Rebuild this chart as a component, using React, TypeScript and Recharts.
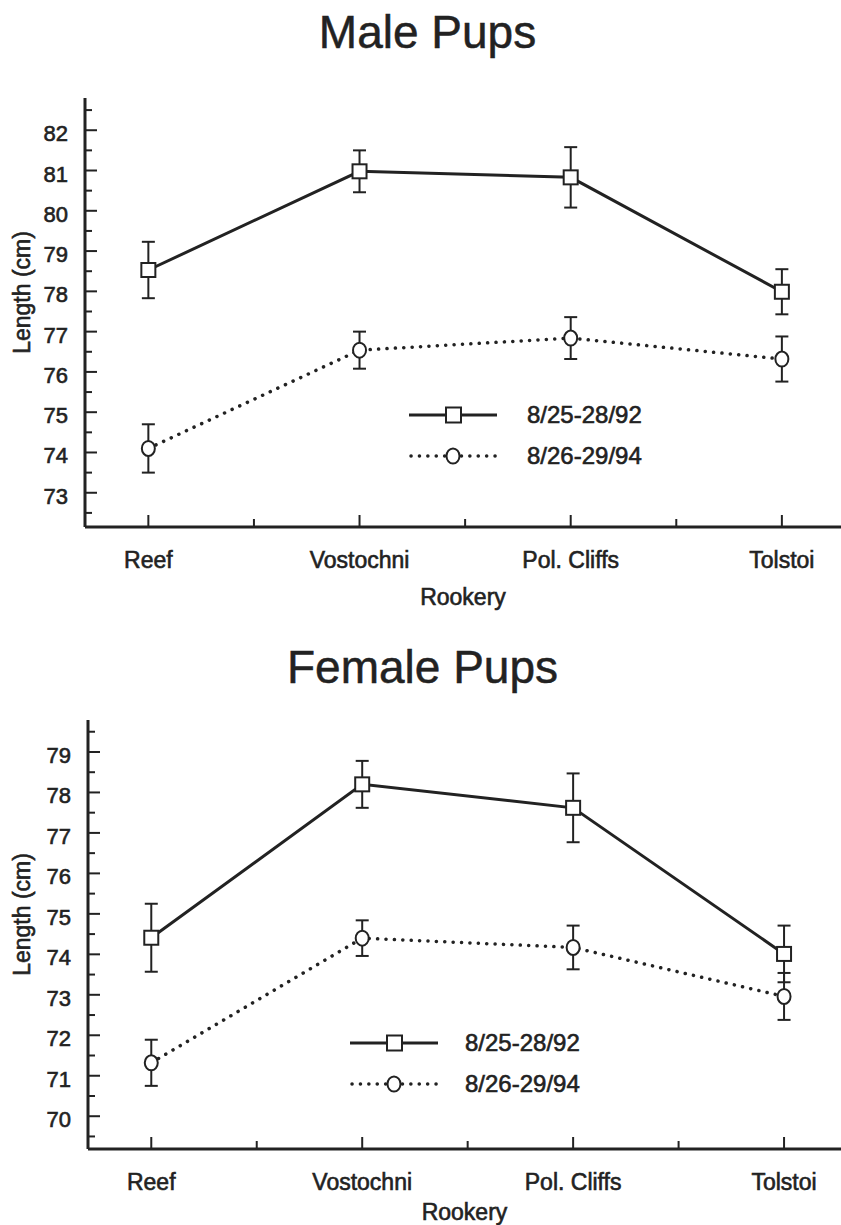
import { LineChart, Line, XAxis, YAxis, ErrorBar, Legend } from 'recharts';

const INK = '#222';
const FONT = '"Liberation Sans", Arial, Helvetica, sans-serif';

const rookeries = ['Reef', 'Vostochni', 'Pol. Cliffs', 'Tolstoi'];
const seriesNames = ['8/25-28/92', '8/26-29/94'];

// male pups, mean length and error
const male92 = [78.53, 80.98, 80.83, 77.99];
const male92Err = [0.7, 0.52, 0.75, 0.56];
const male94 = [74.1, 76.54, 76.84, 76.32];
const male94Err = [0.6, 0.46, 0.52, 0.56];

// female pups
const female92 = [74.41, 78.2, 77.62, 74.01];
const female92Err = [0.84, 0.58, 0.85, 0.7];
const female94 = [71.32, 74.4, 74.17, 72.96];
const female94Err = [0.57, 0.44, 0.54, 0.58];

const xTicks = [0, 0.5, 1, 1.5, 2, 2.5, 3];
const maleTicks = [72.5, 73, 73.5, 74, 74.5, 75, 75.5, 76, 76.5, 77, 77.5, 78, 78.5, 79, 79.5, 80, 80.5, 81, 81.5, 82, 82.5];
const femaleTicks = [69.5, 70, 70.5, 71, 71.5, 72, 72.5, 73, 73.5, 74, 74.5, 75, 75.5, 76, 76.5, 77, 77.5, 78, 78.5, 79, 79.5];

const build = (a: number[], ae: number[], b: number[], be: number[]) =>
  rookeries.map((_, i) => ({ idx: i, y92: a[i], e92: ae[i], y94: b[i], e94: be[i] }));

const maleData = build(male92, male92Err, male94, male94Err);
const femaleData = build(female92, female92Err, female94, female94Err);

// scanned figure: text looks a bit heavier than plain Arial
const heavy = { stroke: INK, strokeWidth: 0.6 };

function YTick(props: any) {
  const { x, y, payload } = props;
  const major = Number.isInteger(payload.value);
  return (
    <g>
      <line x1={x} x2={x + (major ? 12 : 7)} y1={y} y2={y} stroke={INK} strokeWidth={2} />
      {major && (
        <text x={x - 17} y={y + 11} textAnchor="end" fontSize={22} fill={INK} fontFamily={FONT} {...heavy}>
          {payload.value}
        </text>
      )}
    </g>
  );
}

function XTick(props: any) {
  const { x, y, payload } = props;
  const major = Number.isInteger(payload.value);
  return (
    <g>
      <line x1={x} x2={x} y1={y} y2={y - (major ? 12 : 8)} stroke={INK} strokeWidth={2} />
      {major && (
        <text x={x} y={y + 41} textAnchor="middle" fontSize={23} fill={INK} fontFamily={FONT} {...heavy}>
          {rookeries[payload.value]}
        </text>
      )}
    </g>
  );
}

const squareDot = (p: any) => (
  <rect key={`s${p.index}`} x={p.cx - 7} y={p.cy - 7} width={14} height={14} fill="#fff" stroke={INK} strokeWidth={2} />
);
const circleDot = (p: any) => (
  <ellipse key={`c${p.index}`} cx={p.cx} cy={p.cy} rx={6.5} ry={7.5} fill="#fff" stroke={INK} strokeWidth={2} />
);

function LegendBox({ gap }: { gap: number }) {
  return (
    <div style={{ fontFamily: FONT, fontSize: 24, color: INK, WebkitTextStroke: '0.6px #222' } as any}>
      {[0, 1].map((i) => (
        <div key={i} style={{ display: 'flex', alignItems: 'center', height: 41 }}>
          <svg width={88} height={20}>
            {i === 0 ? (
              <>
                <line x1={0} x2={88} y1={10} y2={10} stroke={INK} strokeWidth={3} />
                <rect x={37} y={2.5} width={15} height={15} fill="#fff" stroke={INK} strokeWidth={2} />
              </>
            ) : (
              <>
                <line x1={2} x2={88} y1={10} y2={10} stroke={INK} strokeWidth={3.5} strokeDasharray="0.1 8.3" strokeLinecap="round" />
                <ellipse cx={44} cy={10} rx={6.5} ry={7.5} fill="#fff" stroke={INK} strokeWidth={2} />
              </>
            )}
          </svg>
          <span style={{ marginLeft: gap, lineHeight: 1 }}>{seriesNames[i]}</span>
        </div>
      ))}
    </div>
  );
}

function Panel(props: any) {
  const { data, domain, ticks, yWidth, marginTop, height, marginBottom, xDomain, legendLeft, legendTop, legendGap, rookeryDy } = props;
  return (
    <LineChart width={841} height={height} data={data} margin={{ top: marginTop, right: 0, bottom: marginBottom, left: 0 }}>
      <XAxis
        type="number"
        dataKey="idx"
        domain={xDomain}
        allowDataOverflow
        ticks={xTicks}
        interval={0}
        tickSize={0}
        tickMargin={0}
        tickLine={false}
        tick={<XTick />}
        height={60}
        axisLine={{ stroke: INK, strokeWidth: 3 }}
        label={{
          content: (lp: any) => {
            const vb = lp.viewBox;
            return (
              <text x={vb.x + vb.width / 2} y={vb.y + rookeryDy} textAnchor="middle" fontSize={23} fill={INK} fontFamily={FONT} {...heavy}>
                Rookery
              </text>
            );
          },
        }}
      />
      <YAxis
        type="number"
        domain={domain}
        allowDataOverflow
        ticks={ticks}
        interval={0}
        width={yWidth}
        tickSize={0}
        tickMargin={0}
        tickLine={false}
        tick={<YTick />}
        axisLine={{ stroke: INK, strokeWidth: 3 }}
        label={{
          content: (lp: any) => {
            const vb = lp.viewBox;
            const cy = vb.y + vb.height / 2 - 20;
            return (
              <text x={22} y={cy} transform={`rotate(-90, 22, ${cy})`} textAnchor="middle" dominantBaseline="central" fontSize={23} fill={INK} fontFamily={FONT} {...heavy}>
                Length (cm)
              </text>
            );
          },
        }}
      />
      <Legend
        layout="horizontal"
        verticalAlign="middle"
        align="center"
        wrapperStyle={{ left: legendLeft, top: legendTop, width: 'auto' }}
        content={() => <LegendBox gap={legendGap} />}
      />
      <Line
        name={seriesNames[0]}
        dataKey="y92"
        stroke={INK}
        strokeWidth={3}
        dot={squareDot}
        activeDot={false}
        isAnimationActive={false}
      >
        <ErrorBar dataKey="e92" direction="y" width={6.5} stroke={INK} strokeWidth={2} />
      </Line>
      <Line
        name={seriesNames[1]}
        dataKey="y94"
        stroke={INK}
        strokeWidth={3.5}
        strokeDasharray="0.1 8.3"
        strokeLinecap="round"
        dot={circleDot}
        activeDot={false}
        isAnimationActive={false}
      >
        <ErrorBar dataKey="e94" direction="y" width={6.5} stroke={INK} strokeWidth={2} />
      </Line>
    </LineChart>
  );
}

const titleStyle: any = {
  position: 'absolute',
  left: 0,
  width: 841,
  textAlign: 'center',
  fontFamily: FONT,
  fontSize: 46,
  lineHeight: '46px',
  color: INK,
  WebkitTextStroke: '0.5px #222',
  boxSizing: 'border-box',
};

export default function App() {
  return (
    <div style={{ position: 'absolute', left: 0, top: 0, width: 841, height: 1225, background: '#fff', overflow: 'hidden' }}>
      <div style={{ ...titleStyle, top: 9, paddingLeft: 14 }}>Male Pups</div>
      <div style={{ ...titleStyle, top: 644, paddingLeft: 4 }}>Female Pups</div>
      <div style={{ position: 'absolute', left: 0, top: 0 }}>
        <Panel
          data={maleData}
          domain={[72.15, 82.8]}
          ticks={maleTicks}
          yWidth={85}
          marginTop={98}
          height={620}
          marginBottom={33}
          xDomain={[-0.3, 3.28]}
          legendLeft={409}
          legendTop={394}
          legendGap={30}
          rookeryDy={78}
        />
      </div>
      <div style={{ position: 'absolute', left: 0, top: 620 }}>
        <Panel
          data={femaleData}
          domain={[69.19, 79.79]}
          ticks={femaleTicks}
          yWidth={88}
          marginTop={100}
          height={605}
          marginBottom={16}
          xDomain={[-0.3, 3.27]}
          legendLeft={350}
          legendTop={402}
          legendGap={27}
          rookeryDy={71}
        />
      </div>
    </div>
  );
}
